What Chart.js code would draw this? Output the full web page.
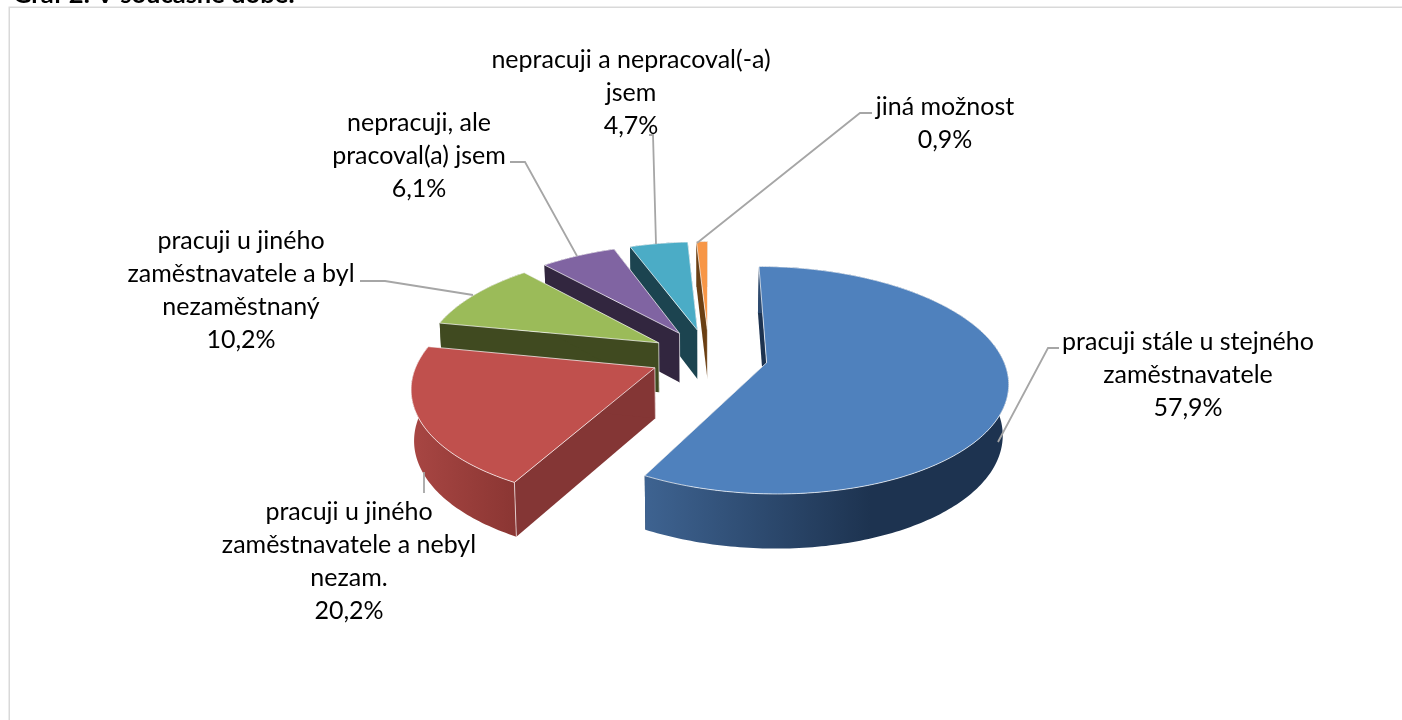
<!DOCTYPE html>
<html lang="cs">
<head>
<meta charset="utf-8">
<title>Graf 2</title>
<script src="https://cdn.jsdelivr.net/npm/chart.js@4"></script>
<style>
  body { margin: 0; background: #fff; overflow: hidden; }
  canvas { display: block; }
</style>
</head>
<body>
<canvas id="pie" width="1402" height="720"></canvas>
<script>
const chartTitle = "Graf 2: V současné době:";
const categories = [
    ["pracuji stále u stejného", "zaměstnavatele"],
    ["pracuji u jiného", "zaměstnavatele a nebyl", "nezam."],
    ["pracuji u jiného", "zaměstnavatele a byl", "nezaměstnaný"],
    ["nepracuji, ale", "pracoval(a) jsem"],
    ["nepracuji a nepracoval(-a)", "jsem"],
    ["jiná možnost"]
];
const shares = [57.9, 20.2, 10.2, 6.1, 4.7, 0.9];

const topColors = ["#4f81bd", "#c0504d", "#9bbb59", "#8064a2", "#4bacc6", "#f79646"];
const sideColors = ["#1d3350", "#843635", "#404a20", "#32263f", "#1c4450", "#6b3f13"];
const rimFrom = ["#3e6391", "#a84643", "#404a20", "#32263f", "#1c4450", "#6b3f13"];
const rimTo = ["#1d3350", "#8b3633", "#404a20", "#32263f", "#1c4450", "#6b3f13"];

// where each label block sits: centre x, first line middle y
const labelX = [1188, 349, 241, 419, 631, 945];
const labelY = [342, 512, 241, 123, 60, 107];
const lineGap = 33;
const leaders = [
    [[1059, 348], [1048, 348], [998, 442]],
    [[424, 493], [424, 472]],
    [[360, 281], [385, 281], [473, 295]],
    [[510, 162], [525, 162], [577, 256]],
    [[649, 135], [653, 135], [656, 244]],
    [[872, 113], [860, 113], [697, 243]]
];

// fake 3D camera for the tilted disc
const cx = 709, cy = 356, scaleX = 235.5, scaleY = 109, persp = 0.152, explode = 0.25;
const depth = 50, depthPersp = 0.08, shrinkLeft = 0.99, shrinkRight = 0.98;

function project(x, y, isBase) {
    const w = 1 + persp * y;
    let sx = cx + scaleX * x / w;
    let sy = cy - scaleY * y / w;
    if (isBase) {
        sx = cx + (sx - cx) * (sx < cx ? shrinkLeft : shrinkRight);
        sy += depth / (1 + depthPersp * y);
    }
    return [sx, sy];
}

function polygon(ctx, pts) {
    ctx.beginPath();
    pts.forEach(function (p, i) {
        if (i === 0) ctx.moveTo(p[0], p[1]);
        else ctx.lineTo(p[0], p[1]);
    });
    ctx.closePath();
}

function drawSlice(ctx, arc, i) {
    const a0 = arc.startAngle + Math.PI / 2;
    const a1 = arc.endAngle + Math.PI / 2;
    const mid = (a0 + a1) / 2;
    const ox = explode * Math.sin(mid);
    const oy = explode * Math.cos(mid);
    const steps = Math.max(2, Math.ceil((a1 - a0) * 60));

    let rimTop = [], rimBase = [];
    for (let s = 0; s <= steps; s++) {
        const a = a0 + (a1 - a0) * s / steps;
        const x = ox + Math.sin(a), y = oy + Math.cos(a);
        rimTop.push(project(x, y, false));
        rimBase.push(project(x, y, true));
    }
    const apexTop = project(ox, oy, false);
    const apexBase = project(ox, oy, true);

    // radial walls
    ctx.fillStyle = sideColors[i];
    polygon(ctx, [apexTop, rimTop[0], rimBase[0], apexBase]);
    ctx.fill();
    polygon(ctx, [apexTop, rimTop[steps], rimBase[steps], apexBase]);
    ctx.fill();

    // outer wall
    const xs = rimTop.map(function (p) { return p[0]; });
    const grad = ctx.createLinearGradient(Math.min.apply(null, xs), 0, Math.max.apply(null, xs), 0);
    grad.addColorStop(0, rimFrom[i]);
    grad.addColorStop(i === 0 ? 0.62 : 1, rimTo[i]);
    if (i === 0) grad.addColorStop(1, rimTo[i]);
    ctx.fillStyle = grad;
    polygon(ctx, rimTop.concat(rimBase.slice().reverse()));
    ctx.fill();

    // corner edges, the rim one only where it faces the viewer
    ctx.strokeStyle = "rgba(255,255,255,0.65)";
    ctx.lineWidth = 1;
    ctx.beginPath();
    ctx.moveTo(apexTop[0], apexTop[1]);
    ctx.lineTo(apexBase[0], apexBase[1]);
    if (Math.cos(a0) < 0) {
        ctx.moveTo(rimTop[0][0], rimTop[0][1]);
        ctx.lineTo(rimBase[0][0], rimBase[0][1]);
    }
    ctx.stroke();

    // top face
    polygon(ctx, [apexTop].concat(rimTop));
    ctx.fillStyle = topColors[i];
    ctx.fill();
    ctx.strokeStyle = "rgba(255,255,255,0.7)";
    ctx.stroke();
}

const pie3d = {
    id: "pie3d",
    beforeDatasetsDraw(chart) {
        const ctx = chart.ctx;
        const arcs = chart.getDatasetMeta(0).data;
        ctx.save();
        // paint back to front
        for (let i = arcs.length - 1; i >= 0; i--) {
            drawSlice(ctx, arcs[i], i);
        }
        ctx.restore();
        return false;
    },
    afterDraw(chart) {
        const ctx = chart.ctx;
        ctx.save();

        // frame, runs off the page on the right and bottom
        ctx.strokeStyle = "#d9d9d9";
        ctx.lineWidth = 1.5;
        ctx.beginPath();
        ctx.moveTo(9.25, 730);
        ctx.lineTo(9.25, 7.25);
        ctx.lineTo(1410, 7.25);
        ctx.stroke();

        ctx.fillStyle = "#000";
        ctx.textAlign = "left";
        ctx.textBaseline = "alphabetic";
        ctx.font = "bold 25.5px Lato";
        ctx.fillText(chartTitle, 13, 3);

        ctx.strokeStyle = "#a6a6a6";
        ctx.lineWidth = 1.8;
        leaders.forEach(function (line) {
            ctx.beginPath();
            line.forEach(function (p, i) {
                if (i === 0) ctx.moveTo(p[0], p[1]);
                else ctx.lineTo(p[0], p[1]);
            });
            ctx.stroke();
        });

        ctx.font = "25px Lato";
        ctx.textAlign = "center";
        ctx.textBaseline = "middle";
        categories.forEach(function (lines, i) {
            const all = lines.concat(shares[i].toFixed(1).replace(".", ",") + "%");
            all.forEach(function (t, k) {
                ctx.fillText(t, labelX[i], labelY[i] + k * lineGap);
            });
        });
        ctx.restore();
    }
};

new Chart(document.getElementById("pie"), {
    type: "pie",
    data: {
        labels: categories.map(function (c) { return c.join(" "); }),
        datasets: [{ data: shares, backgroundColor: topColors }]
    },
    options: {
        responsive: false,
        animation: false,
        plugins: { legend: { display: false }, tooltip: { enabled: false } }
    },
    plugins: [pie3d]
});
</script>
</body>
</html>
